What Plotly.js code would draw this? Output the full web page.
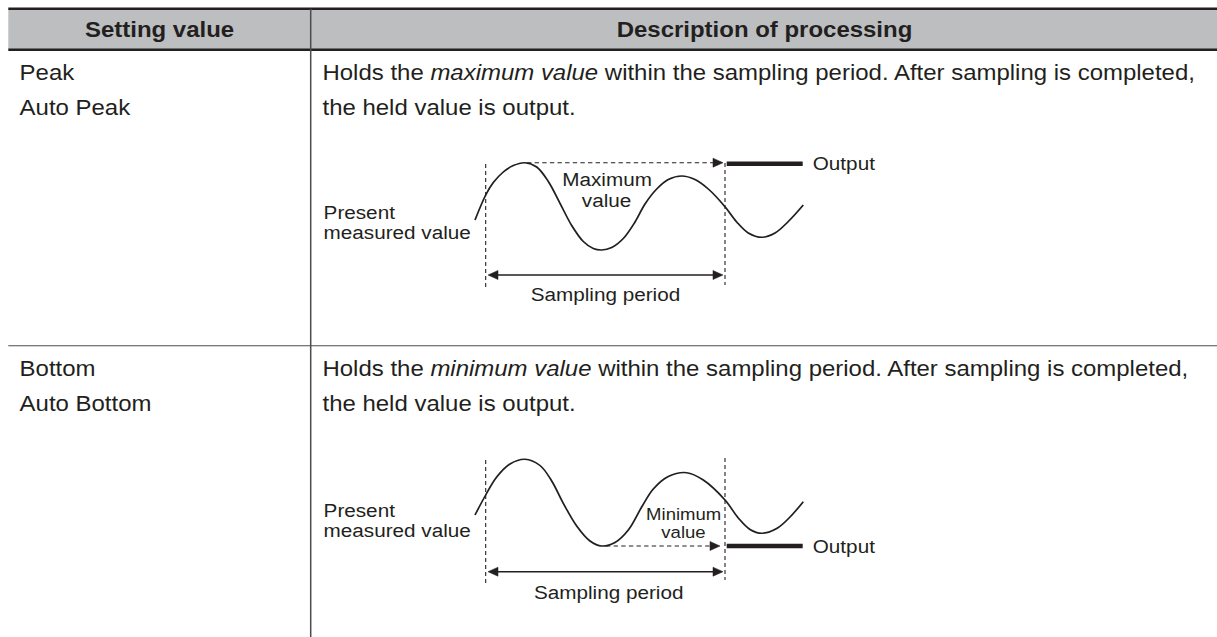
<!DOCTYPE html>
<html><head><meta charset="utf-8">
<script src="https://cdn.plot.ly/plotly-3.0.1.min.js"></script>
<style>html,body{margin:0;padding:0;background:#fff;overflow:hidden;}#chart{transform-origin:0 0;}</style>
</head><body><div id="chart"></div>
<script>
// ---- content / values ----
const headers = ["Setting value", "Description of processing"];
const settingNames = [["Peak", "Auto Peak"], ["Bottom", "Auto Bottom"]];
const heldWords = ["maximum value", "minimum value"];
const descTail = " within the sampling period. After sampling is completed,";
const descLine2 = "the held value is output.";
const holdLabels = [["Maximum", "value"], ["Minimum", "value"]];
const presentLabel = ["Present", "measured value"];
const samplingLabel = "Sampling period";
const outputLabel = "Output";

// measured-value waveforms (diagram units)
const peakWaveX = [475, 485.7, 493.3, 503.3, 513.3, 525, 536.7, 548.3, 560, 571.7, 583.3, 593.3, 601.7,
  611.7, 623.3, 635, 645, 656.7, 668.3, 681.7, 695, 708.3, 725, 736.7, 748.3, 761.7, 775, 788.3, 803.3];
const peakWaveY = [220, 195, 182.5, 172, 165.5, 162.7, 167, 181.5, 203.3, 225.5, 241.5, 248.5, 250,
  247.5, 238.5, 222, 204, 189, 179.5, 176, 179.5, 189, 206.7, 222, 233, 237.3, 233, 221.5, 205];
const bottomWaveX = [475, 485.7, 496.7, 510, 525, 540, 551.7, 563.3, 576.7, 590, 601.7, 615, 628.3,
  641.7, 653.3, 668.3, 686.7, 703.3, 725, 738.3, 750, 761.7, 776.7, 790, 803.3];
const bottomWaveY = [515, 495, 477, 464, 459.3, 465.5, 481, 503.3, 526, 541, 546, 542.5, 530,
  507, 489, 476.5, 472.7, 480, 500, 518, 529.5, 533.3, 528.5, 517, 501.7];

// ---- layout geometry ----
const W = 1217, H = 637, S = 1.09;
const W0 = Math.round(W / S);
const INK = '#231f20', FONT = 'Liberation Sans, Arial, Helvetica, sans-serif';
const colX = 310.7, tableX = 8.3, headTop = 8.7, headBot = 49.7;
const rowTops = [headBot, 345.7];

const panels = [
  { wx: peakWaveX, wy: peakWaveY, dashL: [485.7, 164, 287], dashR: [725, 163, 285],
    hold: { x0: 527, x1: 723, y: 162.7 }, out: { x0: 726.7, x1: 802.7, y: 163.7 },
    samp: { x0: 488, x1: 723, y: 275 }, label: { x: 606.5, y: [179, 200], size: 19 },
    sampText: { x: 605, y: 294 }, present: { x: 321, y: [212, 232] }, outText: { x: 811, y: 163.7 } },
  { wx: bottomWaveX, wy: bottomWaveY, dashL: [485.7, 460, 583], dashR: [725, 458, 580],
    hold: { x0: 606, x1: 720, y: 546 }, out: { x0: 726.7, x1: 802.7, y: 546 },
    samp: { x0: 488, x1: 723, y: 571.7 }, label: { x: 684, y: [514, 532.5], size: 17 },
    sampText: { x: 608, y: 592 }, present: { x: 321, y: [510, 530] }, outText: { x: 811, y: 546 } }
];

const shapes = [], annotations = [], traces = [];
function line(x0, y0, x1, y1, w, color, dash) {
  shapes.push({ type: 'line', xref: 'x', yref: 'y', x0, y0, x1, y1, layer: 'above',
    line: { color: color || INK, width: w, dash: dash || 'solid' } });
}
function head(tx, ty, dir) {
  const bx = tx - dir * 10;
  shapes.push({ type: 'path', xref: 'x', yref: 'y', layer: 'above',
    path: `M ${tx},${ty} L ${bx},${ty - 4.5} L ${bx},${ty + 4.5} Z`,
    fillcolor: INK, line: { color: INK, width: 0.5 } });
}
function txt(x, y, text, size, anchor, bold) {
  annotations.push({ xref: 'x', yref: 'y', x, y, text: bold ? '<b>' + text + '</b>' : text,
    showarrow: false, xanchor: anchor, yanchor: 'middle', align: anchor,
    font: { family: FONT, size, color: INK } });
}

// table
shapes.push({ type: 'rect', xref: 'x', yref: 'y', x0: tableX, x1: W + 2, y0: headTop, y1: headBot,
  fillcolor: '#bcbec0', line: { width: 0 }, layer: 'below' });
line(tableX, headTop, W + 2, headTop, 2.6, INK);
line(tableX, headBot, W + 2, headBot, 2.6, INK);
line(tableX, rowTops[1], W + 2, rowTops[1], 1.1, '#4d4d4f');
line(colX, headTop, colX, H + 2, 1.4, '#4d4d4f');

txt((tableX + colX) / 2, 29.5, headers[0], 22, 'center', true);
txt((colX + W) / 2, 29.5, headers[1], 22, 'center', true);

rowTops.forEach((top, i) => {
  const y1 = top + 22.3, y2 = top + 57.3;
  txt(17, y1, settingNames[i][0], 22, 'left');
  txt(17, y2, settingNames[i][1], 22, 'left');
  txt(320, y1, 'Holds the <i>' + heldWords[i] + '</i>' + descTail, 22, 'left');
  txt(320, y2, descLine2, 22, 'left');
});

// diagrams
panels.forEach((p, i) => {
  traces.push({ type: 'scatter', mode: 'lines', x: p.wx, y: p.wy, hoverinfo: 'skip',
    line: { color: INK, width: 1.6, shape: 'spline', smoothing: 1 } });
  line(p.dashL[0], p.dashL[1], p.dashL[0], p.dashL[2], 1, INK, '4px,3px');
  line(p.dashR[0], p.dashR[1], p.dashR[0], p.dashR[2], 1, INK, '4px,3px');
  line(p.hold.x0, p.hold.y, p.hold.x1 - 9, p.hold.y, 1, INK, '4px,3px');
  head(p.hold.x1, p.hold.y, 1);
  line(p.out.x0, p.out.y, p.out.x1, p.out.y, 4.5, INK);
  line(p.samp.x0 + 8, p.samp.y, p.samp.x1 - 8, p.samp.y, 1.5, INK);
  head(p.samp.x0, p.samp.y, -1);
  head(p.samp.x1, p.samp.y, 1);
  txt(p.label.x, p.label.y[0], holdLabels[i][0], p.label.size, 'center');
  txt(p.label.x, p.label.y[1], holdLabels[i][1], p.label.size, 'center');
  txt(p.sampText.x, p.sampText.y, samplingLabel, 19, 'center');
  txt(p.present.x, p.present.y[0], presentLabel[0], 19, 'left');
  txt(p.present.x, p.present.y[1], presentLabel[1], 19, 'left');
  txt(p.outText.x, p.outText.y, outputLabel, 19, 'left');
});

const layout = {
  width: W0, height: H, margin: { l: 0, r: 0, t: 0, b: 0, pad: 0 },
  paper_bgcolor: '#fff', plot_bgcolor: '#fff', showlegend: false,
  xaxis: { range: [0, W], visible: false, fixedrange: true },
  yaxis: { range: [H, 0], visible: false, fixedrange: true },
  shapes, annotations
};
const el = document.getElementById('chart');
el.style.transform = 'scaleX(' + (W / W0) + ')';
Plotly.newPlot(el, traces, layout, { staticPlot: true, displayModeBar: false });
</script></body></html>
